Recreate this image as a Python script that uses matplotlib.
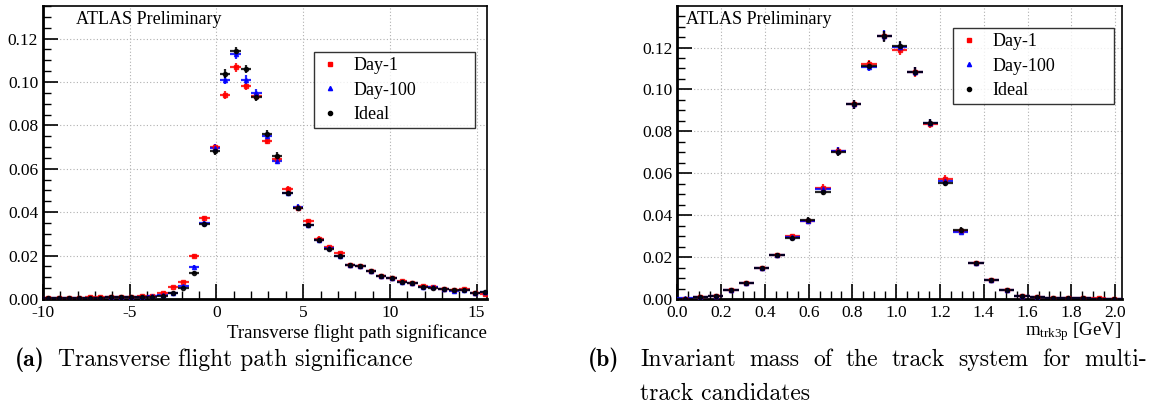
import numpy as np
import matplotlib
matplotlib.use("Agg")
import matplotlib.pyplot as plt
from matplotlib.lines import Line2D
from matplotlib.ticker import MultipleLocator

plt.rcParams['font.family'] = ['Liberation Serif', 'DejaVu Serif']
plt.rcParams['mathtext.fontset'] = 'custom'
plt.rcParams['mathtext.rm'] = 'Liberation Serif'
plt.rcParams['axes.unicode_minus'] = False

# (a) transverse flight path significance, 43 bins of 0.6 from -10
sig_width = 0.6
sig_x = -10 + sig_width / 2 + sig_width * np.arange(43)
sig_day1 = [0.0006, 0.0004, 0.0006, 0.0006, 0.0007, 0.0008, 0.0008, 0.0010, 0.0010, 0.0012,
            0.0016, 0.0029, 0.0055, 0.0077, 0.0198, 0.0372, 0.0700, 0.0942, 0.1067, 0.0981,
            0.0936, 0.0729, 0.0643, 0.0506, 0.0420, 0.0359, 0.0278, 0.0238, 0.0210, 0.0157,
            0.0151, 0.0131, 0.0107, 0.0098, 0.0081, 0.0076, 0.0058, 0.0055, 0.0046, 0.0040,
            0.0044, 0.0028, 0.0023]
sig_day100 = [0.0005, 0.0004, 0.0005, 0.0005, 0.0006, 0.0006, 0.0007, 0.0008, 0.0009, 0.0010,
              0.0012, 0.0020, 0.0028, 0.0061, 0.0149, 0.0349, 0.0697, 0.1008, 0.1127, 0.1011,
              0.0950, 0.0752, 0.0635, 0.0489, 0.0425, 0.0339, 0.0272, 0.0236, 0.0200, 0.0156,
              0.0150, 0.0128, 0.0105, 0.0097, 0.0080, 0.0072, 0.0056, 0.0054, 0.0045, 0.0038,
              0.0042, 0.0026, 0.0031]
sig_ideal = [0.0004, 0.0003, 0.0004, 0.0005, 0.0005, 0.0006, 0.0007, 0.0008, 0.0009, 0.0010,
             0.0011, 0.0015, 0.0026, 0.0052, 0.0121, 0.0345, 0.0680, 0.1039, 0.1142, 0.1060,
             0.0931, 0.0760, 0.0660, 0.0489, 0.0420, 0.0341, 0.0270, 0.0229, 0.0198, 0.0157,
             0.0150, 0.0129, 0.0106, 0.0097, 0.0080, 0.0072, 0.0057, 0.0051, 0.0046, 0.0040,
             0.0042, 0.0026, 0.0032]

# (b) invariant mass of track system, 29 bins of 0.07 GeV from 0
mass_width = 0.07
mass_x = mass_width / 2 + mass_width * np.arange(29)
mass_day1 = [0.0002, 0.0008, 0.0016, 0.0044, 0.0078, 0.0147, 0.0210, 0.0299, 0.0370, 0.0531,
             0.0707, 0.0930, 0.1119, 0.1255, 0.1186, 0.1082, 0.0836, 0.0574, 0.0326, 0.0171,
             0.0091, 0.0044, 0.0016, 0.0008, 0.0005, 0.0004, 0.0003, 0.0003, 0.0002]
mass_day100 = [0.0003, 0.0008, 0.0016, 0.0043, 0.0078, 0.0146, 0.0211, 0.0294, 0.0373, 0.0523,
               0.0707, 0.0930, 0.1109, 0.1257, 0.1202, 0.1085, 0.0840, 0.0565, 0.0322, 0.0170,
               0.0091, 0.0043, 0.0016, 0.0008, 0.0005, 0.0003, 0.0003, 0.0002, 0.0002]
mass_ideal = [0.0002, 0.0008, 0.0016, 0.0043, 0.0078, 0.0147, 0.0211, 0.0289, 0.0376, 0.0512,
              0.0703, 0.0930, 0.1114, 0.1253, 0.1207, 0.1085, 0.0839, 0.0555, 0.0331, 0.0171,
              0.0091, 0.0043, 0.0016, 0.0008, 0.0005, 0.0004, 0.0003, 0.0002, 0.0002]

labels = ['Day-1', 'Day-100', 'Ideal']
colors = ['#ff0000', '#0000ff', '#000000']
markers = ['s', '^', 'o']

W, H = 1153, 418


def draw_panel(ax, x, width, series, err_scale, text_x):
    for vals, c, m in zip(series, colors, markers):
        vals = np.array(vals)
        ax.errorbar(x, vals, xerr=width / 2, yerr=err_scale * np.sqrt(vals),
                    fmt=m, ms=3, color=c, ecolor=c, elinewidth=1.6, capsize=0,
                    alpha=0.85, zorder=3)
    ax.grid(True, which='major', color='#b0b0b0', linestyle=(0, (1, 2)), linewidth=0.8)
    ax.set_axisbelow(True)
    ax.tick_params(which='both', direction='in', top=False, right=False, labelsize=12.5)
    ax.tick_params(axis='x', pad=4)
    ax.tick_params(which='major', length=11, width=1.2)
    ax.tick_params(which='minor', length=6, width=1.0)
    ax.yaxis.set_major_locator(MultipleLocator(0.02))
    ax.yaxis.set_minor_locator(MultipleLocator(0.005))
    ax.yaxis.set_major_formatter(plt.FuncFormatter(lambda v, p: '%.2f' % v))
    for side in ['left', 'bottom']:
        ax.spines[side].set_linewidth(2.0)
    for side in ['top', 'right']:
        ax.spines[side].set_linewidth(1.2)
    ax.text(text_x, 0.955, 'ATLAS Preliminary', transform=ax.transAxes, fontsize=13,
            va='center', ha='left')


def justified_line(fig, text, x0, x1, y, **kw):
    # spread words between x0 and x1 (pixels), like a justified LaTeX line
    words = text.split()
    r = fig.canvas.get_renderer()
    objs = [fig.text(0, 1 - y / H, w, ha='left', va='center', **kw) for w in words]
    widths = [o.get_window_extent(renderer=r).width for o in objs]
    gap = (x1 - x0 - sum(widths)) / (len(words) - 1)
    pos = x0
    for o, wd in zip(objs, widths):
        o.set_x(pos / W)
        pos += wd + gap


fig = plt.figure(figsize=(11.53, 4.18), dpi=100)
ax1 = fig.add_axes([0.0373, 0.2847, 0.3851, 0.7009])
ax2 = fig.add_axes([0.5874, 0.2847, 0.3855, 0.7009])

draw_panel(ax1, sig_x, sig_width, [sig_day1, sig_day100, sig_ideal], 0.006, 0.074)
ax1.set_xlim(-10, 15.6)
ax1.set_ylim(0, 0.135)
ax1.xaxis.set_major_locator(MultipleLocator(5))
ax1.xaxis.set_minor_locator(MultipleLocator(1))

draw_panel(ax2, mass_x, mass_width, [mass_day1, mass_day100, mass_ideal], 0.007, 0.02)
ax2.set_xlim(0, 2.03)
ax2.set_ylim(0, 0.1398)
ax2.xaxis.set_major_locator(MultipleLocator(0.2))
ax2.xaxis.set_minor_locator(MultipleLocator(0.05))
ax2.xaxis.set_major_formatter(plt.FuncFormatter(lambda v, p: '%.1f' % v))

handles = [Line2D([], [], linestyle='none', marker=m, color=c, ms=3) for c, m in zip(colors, markers)]
for ax, anchor in [(ax1, (0.61, 0.594, 0.363, 0.249)), (ax2, (0.62, 0.679, 0.363, 0.246))]:
    leg = ax.legend(handles, labels, loc='upper left', bbox_to_anchor=anchor, mode='expand',
                    fontsize=13, frameon=True, fancybox=False, borderpad=0.3,
                    labelspacing=0.4, handlelength=1.2, handletextpad=0.7, borderaxespad=0)
    leg.get_frame().set_edgecolor('black')
    leg.get_frame().set_linewidth(1.0)

fig.text(487 / W, 1 - 333 / H, 'Transverse flight path significance',
         ha='right', va='center', fontsize=13.5)
fig.text(1121 / W, 1 - 332 / H, r'$\mathregular{m_{trk3p}}$ [GeV]',
         ha='right', va='center', fontsize=13.5)

cap = 17
fig.text(15 / W, 1 - 360 / H, '(a)', ha='left', va='center', fontsize=cap, family='cmb10')
fig.text(58 / W, 1 - 360 / H, 'Transverse flight path significance', ha='left',
         va='center', fontsize=cap, family='cmr10')
fig.text(588 / W, 1 - 360 / H, '(b)', ha='left', va='center', fontsize=cap, family='cmb10')
justified_line(fig, 'Invariant mass of the track system for multi-', 640, 1147, 360,
               fontsize=cap, family='cmr10')
fig.text(640 / W, 1 - 394 / H, 'track candidates', ha='left', va='center',
         fontsize=cap, family='cmr10')

fig.savefig('out.png', dpi=100)
